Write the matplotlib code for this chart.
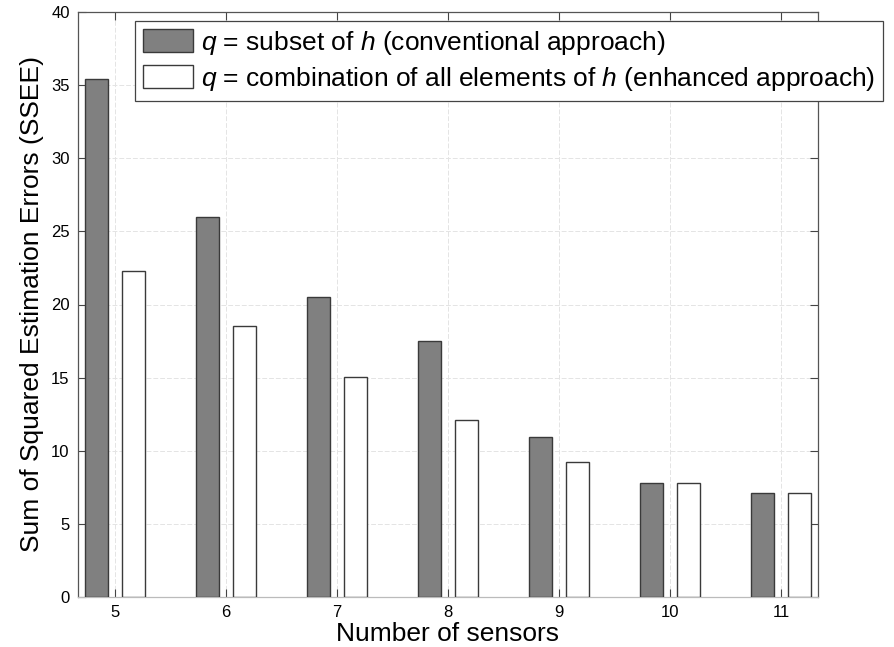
import matplotlib
matplotlib.use("Agg")
import matplotlib.pyplot as plt
import numpy as np

plt.rcParams["font.family"] = ["Liberation Sans", "DejaVu Sans"]
plt.rcParams["mathtext.fontset"] = "custom"
plt.rcParams["mathtext.rm"] = "Liberation Sans"
plt.rcParams["mathtext.it"] = "Liberation Sans:italic"

sensors = [5, 6, 7, 8, 9, 10, 11]
ssee_conventional = [35.4, 26.0, 20.5, 17.5, 10.95, 7.8, 7.13]
ssee_enhanced = [22.3, 18.55, 15.05, 12.1, 9.25, 7.8, 7.13]
labels = [r"$q$ = subset of $h$ (conventional approach)",
          r"$q$ = combination of all elements of $h$ (enhanced approach)"]

fig = plt.figure(figsize=(8.94, 6.47), dpi=100)
ax = fig.add_axes([78 / 894, 50 / 647, 740 / 894, 585 / 647])

x = np.array(sensors, dtype=float)
w = 0.205
ax.bar(x - 0.167, ssee_conventional, width=w, color="#808080",
       edgecolor="#3a3a3a", linewidth=1.0, label=labels[0], zorder=3)
ax.bar(x + 0.167, ssee_enhanced, width=w, color="white",
       edgecolor="#3a3a3a", linewidth=1.0, label=labels[1], zorder=3)

ax.set_xlim(4.667, 11.333)
ax.set_ylim(0, 40)
ax.set_xticks(sensors)
ax.set_yticks(np.arange(0, 41, 5))
ax.grid(True, color="#e4e4e4", linestyle=(0, (5, 2)), linewidth=0.7, zorder=0)
ax.tick_params(direction="in", length=6, width=0.8, top=True, right=True,
               labelsize=12, color="#444444", pad=6)
for s in ax.spines.values():
    s.set_color("#555555")
    s.set_linewidth(0.9)
ax.spines["bottom"].set_color("#bbbbbb")

ax.set_xlabel("Number of sensors", fontsize=19, labelpad=1)
ax.set_ylabel("Sum of Squared Estimation Errors (SSEE)", fontsize=19, labelpad=5)

leg = ax.legend(loc="upper left", bbox_to_anchor=(0.077, 0.985), borderaxespad=0,
                fontsize=19, frameon=True, fancybox=False, edgecolor="#444444",
                framealpha=1, handlelength=1.9, handleheight=1.0,
                handletextpad=0.3, labelspacing=0.3, borderpad=0.3)
leg.get_frame().set_linewidth(0.9)
leg.set_zorder(5)

fig.savefig("out.png", dpi=100)
